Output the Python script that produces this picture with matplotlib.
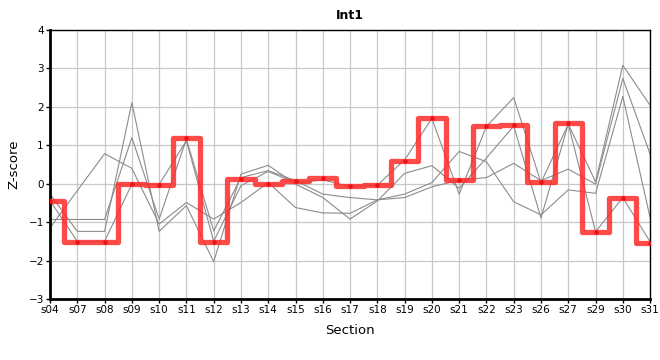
import numpy as np
import matplotlib
matplotlib.use("Agg")
import matplotlib.pyplot as plt

# DATA
sections = ["s04", "s07", "s08", "s09", "s10", "s11", "s12", "s13", "s14", "s15", "s16",
            "s17", "s18", "s19", "s20", "s21", "s22", "s23", "s26", "s27", "s29", "s30", "s31"]

int1 = [-0.44, -1.51, -1.51, -0.02, -0.04, 1.20, -1.51, 0.11, -0.01, 0.06, 0.14,
        -0.07, -0.04, 0.58, 1.70, 0.09, 1.49, 1.52, 0.04, 1.57, -1.25, -0.36, -1.53]

other_1 = [-1.15, -0.18, 0.78, 0.40, -1.05, -0.49, -0.92, -0.49, 0.03, -0.62, -0.76,
           -0.77, -0.42, -0.36, -0.08, 0.09, 0.16, 0.53, 0.08, 0.38, -0.01, 2.74, 0.77]
other_2 = [-0.93, -0.93, -0.93, 1.20, -0.92, 1.16, -1.23, 0.16, 0.34, 0.08, -0.27,
           -0.36, -0.42, -0.27, 0.03, 0.84, 0.57, -0.47, -0.81, -0.16, -0.25, 2.27, -0.88]
other_3 = [-0.27, -1.24, -1.24, 2.11, -1.24, -0.57, -2.03, 0.25, 0.48, -0.01, -0.36,
           -0.92, -0.45, 0.27, 0.47, -0.12, 0.67, 1.50, -0.89, 1.55, -1.25, -0.36, -1.51]
other_4 = [-0.44, -1.50, -1.50, -0.01, -0.02, 1.12, -1.50, -0.05, 0.32, 0.02, 0.10,
           -0.07, -0.04, 0.62, 1.70, -0.27, 1.49, 2.24, 0.03, 1.55, 0.05, 3.08, 2.04]


# PLOTTING
fig = plt.figure(figsize=(6.6, 3.6), dpi=100)
ax = fig.add_axes([0.0758, 0.1694, 0.9092, 0.7473])

x_pos = np.arange(len(sections))
for other in [other_1, other_2, other_3, other_4]:
    ax.plot(x_pos, other, color="#8c8c8c", linewidth=0.8, zorder=2)

ax.plot(x_pos, int1, drawstyle="steps-mid", color="#ff2a2a", alpha=0.85,
        linewidth=3.8, solid_joinstyle="round", solid_capstyle="round", zorder=3)
ax.plot(x_pos, int1, linestyle="none", marker="o", markersize=2.2,
        color="#ee1111", zorder=4)

ax.set_xlim(0, len(sections) - 1)
ax.set_ylim(-3, 4)
ax.set_xticks(x_pos)
ax.set_xticklabels(sections)
ax.set_yticks(range(-3, 5))
ax.grid(True, color="#c8c8c8", linewidth=0.9)
ax.set_axisbelow(True)

for side in ["left", "bottom"]:
    ax.spines[side].set_linewidth(2.0)
for side in ["top", "right"]:
    ax.spines[side].set_linewidth(1.0)
ax.tick_params(axis="both", labelsize=7.5, length=3, width=1, pad=1.5)

ax.set_title("Int1", fontsize=9, fontweight="bold", pad=8)
ax.set_ylabel("Z-score", fontsize=9.5, labelpad=6)
ax.set_xlabel("Section", fontsize=9.5, labelpad=6)

fig.savefig("out.png", dpi=100)
